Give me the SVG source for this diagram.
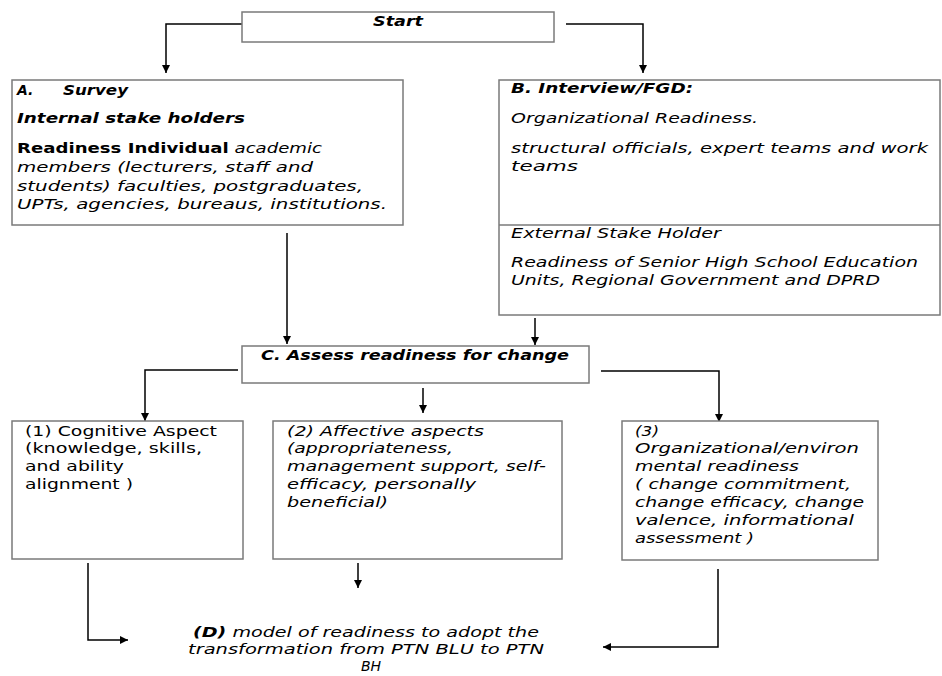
<svg xmlns="http://www.w3.org/2000/svg" width="942" height="676" viewBox="0 0 942 676">
<style>
.box{fill:#fff;stroke:#7a7a7a;stroke-width:1.5}
.sep{stroke:#7a7a7a;stroke-width:1.5}
.con{fill:none;stroke:#000;stroke-width:1.5}
text{font-family:"DejaVu Sans","Verdana",sans-serif;font-size:14px;fill:#000}
.i{font-style:italic}
.b{font-weight:bold}
.bi{font-style:italic;font-weight:bold}
</style>
<defs>
<marker id="ah" viewBox="0 0 10 10" refX="10" refY="5" markerWidth="9" markerHeight="8" markerUnits="userSpaceOnUse" orient="auto">
<path d="M0,0 L10,5 L0,10 z" fill="#000"/>
</marker>
</defs>
<g id="connectors">
<path class="con" d="M242,24 H166 V73" marker-end="url(#ah)"/>
<path class="con" d="M566,24 H643 V73" marker-end="url(#ah)"/>
<path class="con" d="M287,233 V344" marker-end="url(#ah)"/>
<path class="con" d="M535,318 V345" marker-end="url(#ah)"/>
<path class="con" d="M238,370 H145 V421" marker-end="url(#ah)"/>
<path class="con" d="M423,388 V413" marker-end="url(#ah)"/>
<path class="con" d="M601,371 H719 V422" marker-end="url(#ah)"/>
<path class="con" d="M88,563 V640 H128" marker-end="url(#ah)"/>
<path class="con" d="M358,563 V588" marker-end="url(#ah)"/>
<path class="con" d="M718,569 V647 H603" marker-end="url(#ah)"/>
</g>
<g id="start">
<rect class="box" x="242" y="12" width="312" height="30"/>
<text class="bi" x="373" y="26" textLength="50" lengthAdjust="spacingAndGlyphs">Start</text>
</g>
<g id="nodeA">
<rect class="box" x="12" y="80" width="391" height="145"/>
<text class="bi" x="17" y="95">A.</text>
<text class="bi" x="63" y="95" textLength="65" lengthAdjust="spacingAndGlyphs">Survey</text>
<text class="bi" x="17" y="123" textLength="228" lengthAdjust="spacingAndGlyphs">Internal stake holders</text>
<text x="17" y="153" textLength="305" lengthAdjust="spacingAndGlyphs"><tspan class="b">Readiness Individual</tspan><tspan class="i"> academic</tspan></text>
<text class="i" x="17" y="172" textLength="296" lengthAdjust="spacingAndGlyphs">members (lecturers, staff and</text>
<text class="i" x="17" y="191" textLength="346" lengthAdjust="spacingAndGlyphs">students) faculties, postgraduates,</text>
<text class="i" x="17" y="209" textLength="370" lengthAdjust="spacingAndGlyphs">UPTs, agencies, bureaus, institutions.</text>
</g>
<g id="nodeB">
<rect class="box" x="499" y="80" width="441" height="235"/>
<line class="sep" x1="499" y1="225" x2="940" y2="225"/>
<text class="bi" x="511" y="93" textLength="182" lengthAdjust="spacingAndGlyphs">B. Interview/FGD:</text>
<text class="i" x="511" y="123" textLength="247" lengthAdjust="spacingAndGlyphs">Organizational Readiness.</text>
<text class="i" x="511" y="153" textLength="417" lengthAdjust="spacingAndGlyphs">structural officials, expert teams and work</text>
<text class="i" x="511" y="171" textLength="67" lengthAdjust="spacingAndGlyphs">teams</text>
<text class="i" x="511" y="238" textLength="210" lengthAdjust="spacingAndGlyphs">External Stake Holder</text>
<text class="i" x="511" y="267" textLength="407" lengthAdjust="spacingAndGlyphs">Readiness of Senior High School Education</text>
<text class="i" x="511" y="285" textLength="369" lengthAdjust="spacingAndGlyphs">Units, Regional Government and DPRD</text>
</g>
<g id="nodeC">
<rect class="box" x="242" y="346" width="347" height="37"/>
<text class="bi" x="261" y="360" textLength="308" lengthAdjust="spacingAndGlyphs">C. Assess readiness for change</text>
</g>
<g id="node1">
<rect class="box" x="12" y="421" width="231" height="138"/>
<text x="25" y="436" textLength="192" lengthAdjust="spacingAndGlyphs">(1) Cognitive Aspect</text>
<text x="25" y="453" textLength="177" lengthAdjust="spacingAndGlyphs">(knowledge, skills,</text>
<text x="25" y="471" textLength="99" lengthAdjust="spacingAndGlyphs">and ability</text>
<text x="25" y="489" textLength="108" lengthAdjust="spacingAndGlyphs">alignment )</text>
</g>
<g id="node2">
<rect class="box" x="273" y="421" width="289" height="138"/>
<text class="i" x="287" y="436" textLength="197" lengthAdjust="spacingAndGlyphs">(2) Affective aspects</text>
<text class="i" x="287" y="453" textLength="166" lengthAdjust="spacingAndGlyphs">(appropriateness,</text>
<text class="i" x="287" y="471" textLength="259" lengthAdjust="spacingAndGlyphs">management support, self-</text>
<text class="i" x="287" y="489" textLength="189" lengthAdjust="spacingAndGlyphs">efficacy, personally</text>
<text class="i" x="287" y="507" textLength="101" lengthAdjust="spacingAndGlyphs">beneficial)</text>
</g>
<g id="node3">
<rect class="box" x="622" y="421" width="256" height="139"/>
<text class="i" x="635" y="436" textLength="24" lengthAdjust="spacingAndGlyphs">(3)</text>
<text class="i" x="635" y="453" textLength="224" lengthAdjust="spacingAndGlyphs">Organizational/environ</text>
<text class="i" x="635" y="471" textLength="164" lengthAdjust="spacingAndGlyphs">mental readiness</text>
<text class="i" x="635" y="489" textLength="216" lengthAdjust="spacingAndGlyphs">( change commitment,</text>
<text class="i" x="635" y="507" textLength="229" lengthAdjust="spacingAndGlyphs">change efficacy, change</text>
<text class="i" x="635" y="525" textLength="219" lengthAdjust="spacingAndGlyphs">valence, informational</text>
<text class="i" x="635" y="543" textLength="119" lengthAdjust="spacingAndGlyphs">assessment )</text>
</g>
<g id="nodeD">
<text class="i" x="193" y="637" textLength="346" lengthAdjust="spacingAndGlyphs"><tspan class="bi">(D)</tspan> model of readiness to adopt the</text>
<text class="i" x="188" y="654" textLength="356" lengthAdjust="spacingAndGlyphs">transformation from PTN BLU to PTN</text>
<text class="i" x="361" y="671" font-size="13">BH</text>
</g>
</svg>
